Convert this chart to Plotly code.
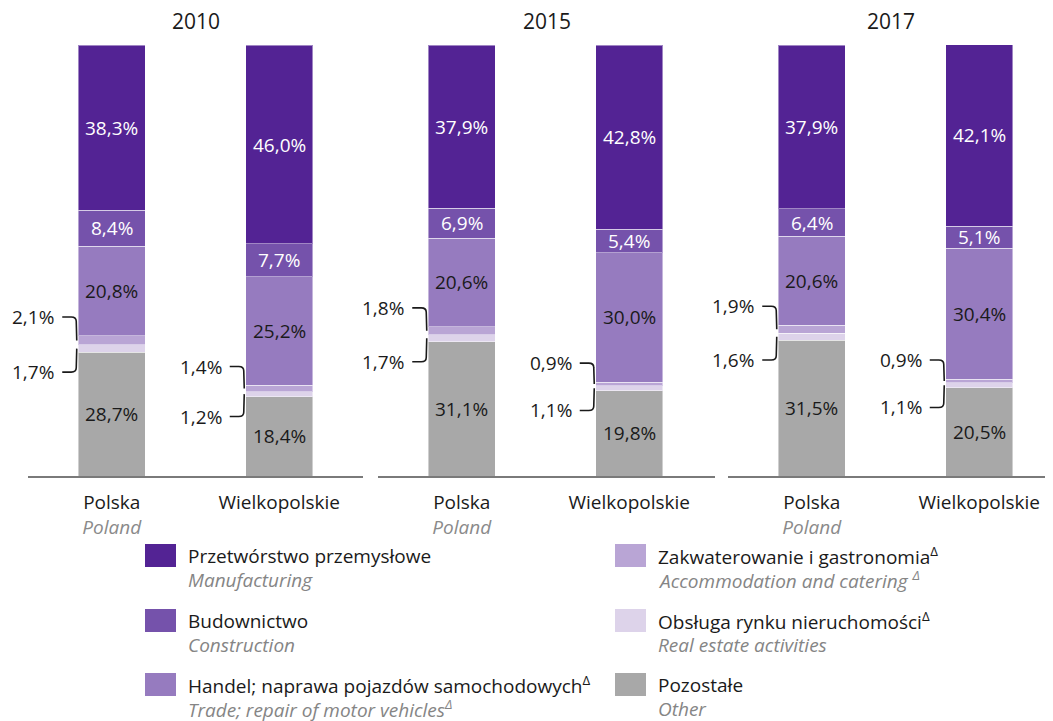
import plotly.graph_objects as go
from plotly.subplots import make_subplots

years = ["2010", "2015", "2017"]
tick_text = ["Polska<br><span style='color:#8a8a8a'><i>Poland</i></span>", "Wielkopolskie"]

# order inside every list: 2010 Polska, 2010 Wielkopolskie, 2015 Polska, 2015 Wielkopolskie, 2017 Polska, 2017 Wielkopolskie
manufacturing = [38.3, 46.0, 37.9, 42.8, 37.9, 42.1]
construction = [8.4, 7.7, 6.9, 5.4, 6.4, 5.1]
trade = [20.8, 25.2, 20.6, 30.0, 20.6, 30.4]
accommodation = [2.1, 1.4, 1.8, 0.9, 1.9, 0.9]
real_estate = [1.7, 1.2, 1.7, 1.1, 1.6, 1.1]
other = [28.7, 18.4, 31.1, 19.8, 31.5, 20.5]

names_pl = ["Przetwórstwo przemysłowe", "Budownictwo", "Handel; naprawa pojazdów samochodowych<sup>Δ</sup>",
            "Zakwaterowanie i gastronomia<sup>Δ</sup>", "Obsługa rynku nieruchomości<sup>Δ</sup>", "Pozostałe"]
names_en = ["Manufacturing", "Construction", "Trade; repair of motor vehicles<sup>Δ</sup>",
            "Accommodation and catering <sup>Δ</sup>", "Real estate activities", "Other"]
colors = ["#532394", "#7552ab", "#967bbf", "#b9a5d5", "#ddd3ea", "#a8a8a8"]
label_colors = ["white", "white", "#1a1a1a", None, None, "#1a1a1a"]

series = [manufacturing, construction, trade, accommodation, real_estate, other]
FONT = "Open Sans"
OFF = 8                       # page margin around the plot div
W, H = 1053 - OFF, 721 - OFF
TOP, BASE = 45 - OFF, 476 - OFF   # pixel rows of 100% and 0%
# pixel spans of the three panels
panels = [(28 - OFF, 363 - OFF), (378 - OFF, 715 - OFF), (728 - OFF, 1053 - OFF)]
UNIT = 167.5                  # pixels per category step
BAR_W = 0.4

fig = make_subplots(rows=1, cols=3, shared_yaxes=True)

stack_order = [5, 4, 3, 2, 1, 0]  # bottom -> top
for g, year in enumerate(years):
    col = g + 1
    for s in stack_order:
        vals = series[s][2 * g:2 * g + 2]
        fig.add_trace(go.Bar(
            x=[0, 1], y=vals, width=BAR_W,
            marker=dict(color=colors[s], line=dict(color="rgba(255,255,255,0.45)", width=1)),
            name=names_en[s], showlegend=False,
            hovertemplate=names_pl[s] + ": %{y:.1f}%<extra></extra>",
        ), row=1, col=col)

    xa = "xaxis" if col == 1 else "xaxis%d" % col
    x0, x1 = panels[g]
    fig.layout[xa].update(
        domain=[x0 / W, x1 / W], range=[-0.5, -0.5 + (x1 - x0) / UNIT],
        tickvals=[0, 1], ticktext=tick_text, showgrid=False, zeroline=False,
        showline=True, linecolor="#7a7a7a", linewidth=2,
        ticks="outside", ticklen=8, tickcolor="rgba(0,0,0,0)",
        tickfont=dict(family=FONT, size=19, color="#1a1a1a"),
    )
    xref = "x" if col == 1 else "x%d" % col

    fig.add_annotation(text=year, xref=xref + " domain", yref="paper", x=0.5, y=1,
                       yanchor="bottom", yshift=8, showarrow=False,
                       font=dict(family=FONT, size=21, color="#1a1a1a"))

    for i in range(2):
        k = 2 * g + i
        base = 0
        bounds = {}
        for s in stack_order:
            v = series[s][k]
            bounds[s] = (base, base + v)
            if label_colors[s] is not None:
                fig.add_annotation(text=("%.1f%%" % v).replace(".", ","), xref=xref, yref="y",
                                   x=i, y=base + v / 2, showarrow=False,
                                   font=dict(family=FONT, size=19, color=label_colors[s]))
            base += v

        # bracket callouts for the two thin segments
        px = 1 / UNIT
        edge = i - BAR_W / 2
        xa_, xb_, xc_ = edge - 16 * px, edge - 7 * px, edge - 2 * px
        acc_lo, acc_hi = bounds[3]
        re_lo, re_hi = bounds[4]
        callouts = [
            (accommodation[k], acc_hi + 4.4, (acc_lo + acc_hi) / 2, -1),
            (real_estate[k], re_lo - 4.6, (re_lo + re_hi) / 2, 1),
        ]
        for v, yl, yt, d in callouts:
            path = "M %f,%f L %f,%f Q %f,%f %f,%f L %f,%f" % (
                xa_, yl, xb_, yl, xc_, yl, xc_, yl + d * 1.0, xc_ + 0.5 * px, yt)
            fig.add_shape(type="path", path=path, xref=xref, yref="y",
                          line=dict(color="#1a1a1a", width=1.6))
            fig.add_annotation(text=("%.1f%%" % v).replace(".", ","), xref=xref, yref="y",
                               x=edge - 22 * px, y=yl, xanchor="right", showarrow=False,
                               font=dict(family=FONT, size=19, color="#1a1a1a"))

fig.update_yaxes(range=[0, 100], visible=False, fixedrange=True)


# legend drawn by hand: two columns of three entries (reference pixel positions)
def pxx(v):
    return (v - OFF) / W


def pxy(v):
    return (BASE - (v - OFF)) / (BASE - TOP)


legend_cols = [145, 615]
row_tops = [544, 609, 673]
for s in range(6):
    cx = legend_cols[s // 3]
    ry = row_tops[s % 3]
    fig.add_shape(type="rect", xref="paper", yref="paper",
                  x0=pxx(cx), x1=pxx(cx + 31), y0=pxy(ry), y1=pxy(ry + 23),
                  fillcolor=colors[s], line=dict(width=0))
    fig.add_annotation(text=names_pl[s], xref="paper", yref="paper",
                       x=pxx(cx + 41), y=pxy(ry + 12), xanchor="left", yanchor="middle",
                       showarrow=False, font=dict(family=FONT, size=19, color="#1a1a1a"))
    fig.add_annotation(text="<i>" + names_en[s] + "</i>", xref="paper", yref="paper",
                       x=pxx(cx + 41), y=pxy(ry + 36), xanchor="left", yanchor="middle",
                       showarrow=False, font=dict(family=FONT, size=19, color="#858585"))

fig.update_layout(
    barmode="stack", width=W, height=H,
    margin=dict(l=0, r=0, t=TOP, b=H - BASE),
    paper_bgcolor="white", plot_bgcolor="white",
    font=dict(family=FONT),
    showlegend=False,
)

fig.write_html("out.html")
